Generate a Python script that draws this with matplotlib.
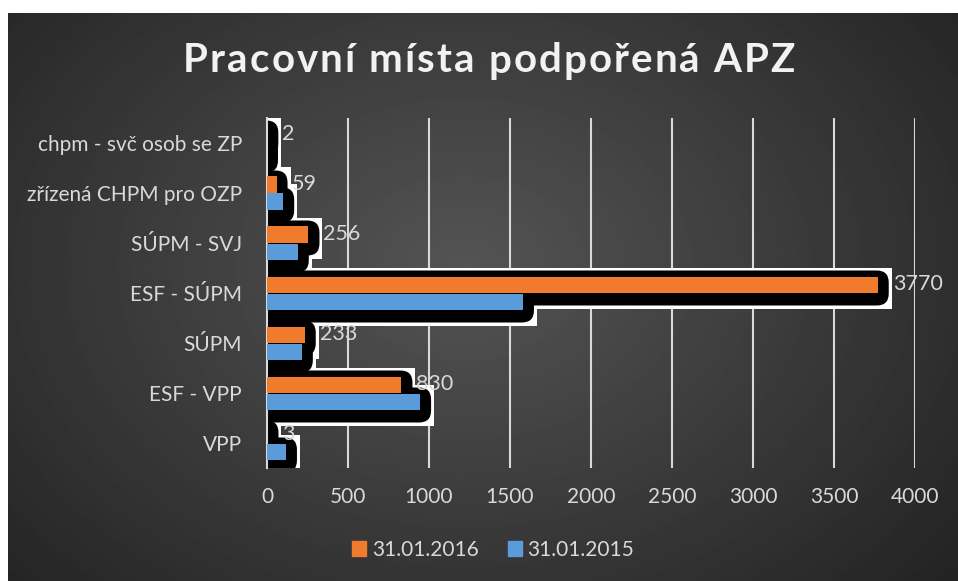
import numpy as np
import matplotlib
matplotlib.use('Agg')
import matplotlib.pyplot as plt
from matplotlib.patches import Rectangle, FancyBboxPatch
from matplotlib.transforms import IdentityTransform

categories = ['VPP', 'ESF - VPP', 'SÚPM', 'ESF - SÚPM', 'SÚPM - SVJ',
              'zřízená CHPM pro OZP', 'chpm - svč osob se ZP']
vals_2016 = [3, 830, 233, 3770, 256, 59, 2]
vals_2015 = [117, 945, 215, 1580, 190, 100, 0]
series_names = ['31.01.2016', '31.01.2015']
x_ticks = [0, 500, 1000, 1500, 2000, 2500, 3000, 3500, 4000]
title = 'Pracovní místa podpořená APZ'

plt.rcParams['font.family'] = ['Lato', 'DejaVu Sans']
txt_col = '#d9d9d9'
orange = '#f07b2d'
blue = '#5a9bd9'

W, H = 958, 581
fig = plt.figure(figsize=(W / 100, H / 100), dpi=100)
fig.patch.set_facecolor('white')

# dark radial background
bg = fig.add_axes([8 / W, 0, 1 - 8 / W, (H - 13) / H])
yy, xx = np.mgrid[0:1:300j, 0:1:500j]
r = np.sqrt(((xx - 0.48) / 0.6) ** 2 + ((yy - 0.45) / 0.75) ** 2)
shade = np.clip(0.33 - 0.17 * r, 0, 1)
bg.imshow(shade, cmap='gray', vmin=0, vmax=1, aspect='auto', extent=[0, 1, 0, 1])
bg.axis('off')

ax = fig.add_axes([267 / W, 113 / H, 648 / W, 350 / H])
ax.patch.set_alpha(0)
ax.set_xlim(0, 4000)
ax.set_ylim(-0.5, len(categories) - 0.5)

y = np.arange(len(categories))
off, h = 0.17, 0.32
b16 = ax.barh(y + off, vals_2016, height=h, color=orange, zorder=4)
b15 = ax.barh(y - off, vals_2015, height=h, color=blue, zorder=4)

# glitchy shadow boxes behind each bar (black rounded glow in white frame)
for bars in (b16, b15):
    for rect in bars:
        x0, y0 = rect.get_x(), rect.get_y()
        x1, y1 = x0 + rect.get_width(), y0 + rect.get_height()
        (px0, py0), (px1, py1) = ax.transData.transform([(x0, y0), (x1, y1)])
        bx0, bx1 = px0 - 14, px1 + 11
        by0, by1 = py0 - 13, py1 + 6
        white = Rectangle((bx0 - 3, by0 - 3), bx1 - bx0 + 6, by1 - by0 + 6,
                          transform=IdentityTransform(), facecolor='white',
                          edgecolor='none', zorder=1)
        black = FancyBboxPatch((bx0, by0), bx1 - bx0, by1 - by0,
                               boxstyle='round,pad=0,rounding_size=12',
                               transform=IdentityTransform(), facecolor='black',
                               edgecolor='none', zorder=2)
        ax.add_artist(white)
        ax.add_artist(black)

for rect, v in zip(b16, vals_2016):
    ax.annotate(str(v), xy=(rect.get_width(), rect.get_y() + rect.get_height() / 2),
                xytext=(15, 0), textcoords='offset pixels', va='center', ha='left',
                color=txt_col, fontsize=15.5, zorder=5)

ax.set_yticks(y)
ax.set_yticklabels(categories)
ax.set_xticks(x_ticks)
ax.tick_params(axis='both', length=0, colors=txt_col, labelsize=15)
ax.tick_params(axis='y', pad=18)
ax.tick_params(axis='x', pad=14)
ax.xaxis.grid(True, color=txt_col, lw=1.5)
ax.set_axisbelow(True)
for s in ['top', 'right', 'bottom']:
    ax.spines[s].set_visible(False)
ax.spines['left'].set_color(txt_col)
ax.spines['left'].set_linewidth(1.5)
ax.spines['left'].set_zorder(3)

# title with letter spacing
renderer = fig.canvas.get_renderer()
tprops = dict(fontsize=29, fontweight='bold', color='#f2f2f2', va='center', ha='left')
probe = fig.text(0, 0, '|', **tprops)
bar_w = probe.get_window_extent(renderer).width
probe.remove()
def prefix_width(s):
    t = fig.text(0, 0, s + '|', **tprops)
    w = t.get_window_extent(renderer).width - bar_w
    t.remove()
    return w
natural = prefix_width(title)
target = 612
spacing = (target - natural) / (len(title) - 1)
start = 489 - target / 2
for i, ch in enumerate(title):
    xpos = start + prefix_width(title[:i]) + i * spacing
    fig.text(xpos / W, 1 - 61 / H, ch, **tprops)

handles = [Rectangle((0, 0), 1, 1, color=orange), Rectangle((0, 0), 1, 1, color=blue)]
fig.legend(handles, series_names, loc='center', bbox_to_anchor=(493 / W, 1 - 550 / H),
           ncol=2, frameon=False, handlelength=0.7, handleheight=0.7,
           handletextpad=0.25, columnspacing=1.4, labelcolor=txt_col, fontsize=15)

fig.savefig('out.png', dpi=100, facecolor=fig.get_facecolor())
